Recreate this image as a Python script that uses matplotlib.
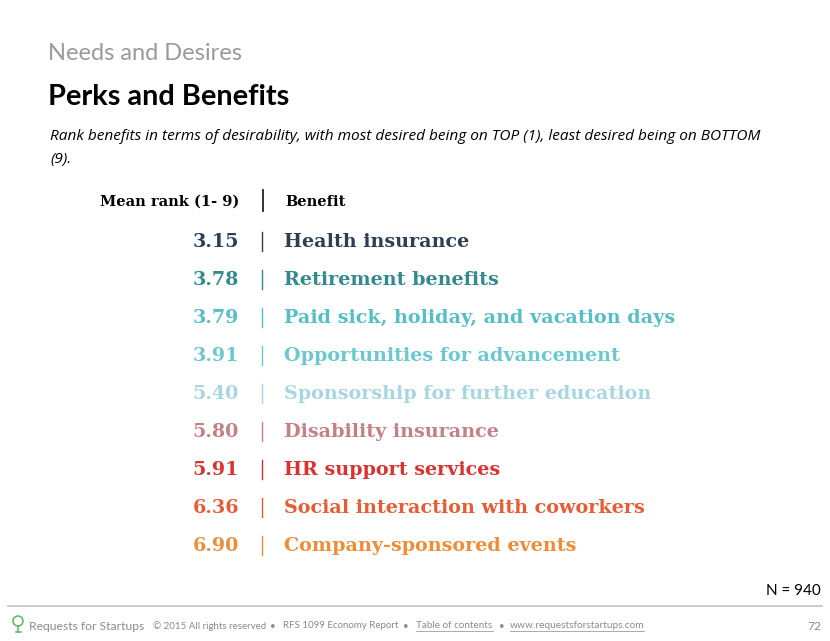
import matplotlib
matplotlib.use("Agg")
import matplotlib.pyplot as plt
from matplotlib.patches import Circle

# chart data
benefits = [
    "Health insurance",
    "Retirement benefits",
    "Paid sick, holiday, and vacation days",
    "Opportunities for advancement",
    "Sponsorship for further education",
    "Disability insurance",
    "HR support services",
    "Social interaction with coworkers",
    "Company-sponsored events",
]
mean_rank = [3.15, 3.78, 3.79, 3.91, 5.40, 5.80, 5.91, 6.36, 6.90]
row_colors = ["#2d3e55", "#318a8e", "#55bfc4", "#6ac8d0", "#a8d6e0",
              "#c47f87", "#d9322f", "#e85c34", "#ef8c35"]
n_resp = 940

SANS = ["Lato", "DejaVu Sans"]
SERIF = ["DejaVu Serif"]
FOOT = "#8a8a8a"

fig = plt.figure(figsize=(8.3, 6.41), dpi=100)
ax = fig.add_axes([0, 0, 1, 1])
# pixel-like coordinates, origin at top left
ax.set_xlim(0, 830)
ax.set_ylim(641, 0)
ax.axis("off")

ax.text(48, 53, "Needs and Desires", fontsize=17, color="#9a9a9a",
        family=SANS, va="center")
ax.text(48, 97, "Perks and Benefits", fontsize=20.8, weight="bold",
        color="black", family=SANS, va="center")
ax.text(50, 137, "Rank benefits in terms of desirability, with most desired being on TOP (1), "
        "least desired being on BOTTOM", fontsize=11.1, style="italic",
        family=["Open Sans", "DejaVu Sans"], va="center")
ax.text(50, 159, "(9).", fontsize=11.1, style="italic",
        family=["Open Sans", "DejaVu Sans"], va="center")

# header
ax.text(239, 202, "Mean rank (1- 9)", fontsize=10.5, weight="bold",
        family=SERIF, ha="right", va="center")
ax.plot([263, 263], [190, 211], color="#222222", lw=1.3)
ax.text(285, 202, "Benefit", fontsize=10.5, weight="bold",
        family=SERIF, ha="left", va="center")

y0, step = 242, 38
for i, (name, val, col) in enumerate(zip(benefits, mean_rank, row_colors)):
    y = y0 + i * step
    ax.text(239, y, f"{val:.2f}", fontsize=13.8, weight="bold", color=col,
            family=SERIF, ha="right", va="center")
    ax.plot([262, 262], [y - 10, y + 9], color=col, lw=1.0)
    ax.text(284, y, name, fontsize=13.8, weight="bold", color=col,
            family=SERIF, ha="left", va="center")

ax.text(821, 591, f"N = {n_resp}", fontsize=11, family=SANS,
        ha="right", va="center")

# footer
ax.plot([8, 822], [606, 606], color="#c4c4c4", lw=1.2)
ax.add_patch(Circle((18, 621), 5, fill=False, ec="#5cb85c", lw=1.1))
ax.plot([18, 18], [626, 632], color="#5cb85c", lw=1.1)
ax.plot([15.5, 20.5], [632, 632], color="#5cb85c", lw=1.1)
ax.text(29, 626, "Requests for Startups", fontsize=8.7, color=FOOT,
        family=SANS, va="center")
ax.text(153, 626, "\u00a9 2015 All rights reserved", fontsize=7.0, color=FOOT,
        family=SANS, va="center")
ax.text(273, 626, "\u2022", fontsize=7.0, color=FOOT, family=SANS, ha="center", va="center")
ax.text(283, 626, "RFS 1099 Economy Report", fontsize=7.0, color=FOOT,
        family=SANS, va="center")
ax.text(406, 626, "\u2022", fontsize=7.0, color=FOOT, family=SANS, ha="center", va="center")
ax.text(416, 626, "Table of contents", fontsize=7.1, color=FOOT,
        family=SANS, va="center")
ax.plot([416, 493], [631, 631], color=FOOT, lw=0.5)
ax.text(502, 626, "\u2022", fontsize=7.0, color=FOOT, family=SANS, ha="center", va="center")
ax.text(510, 626, "www.requestsforstartups.com", fontsize=7.3, color=FOOT,
        family=SANS, va="center")
ax.plot([510, 644], [631, 631], color=FOOT, lw=0.5)
ax.text(821, 626, "72", fontsize=8.7, color=FOOT, family=SANS,
        ha="right", va="center")

fig.savefig("out.png", dpi=100, facecolor="white")
